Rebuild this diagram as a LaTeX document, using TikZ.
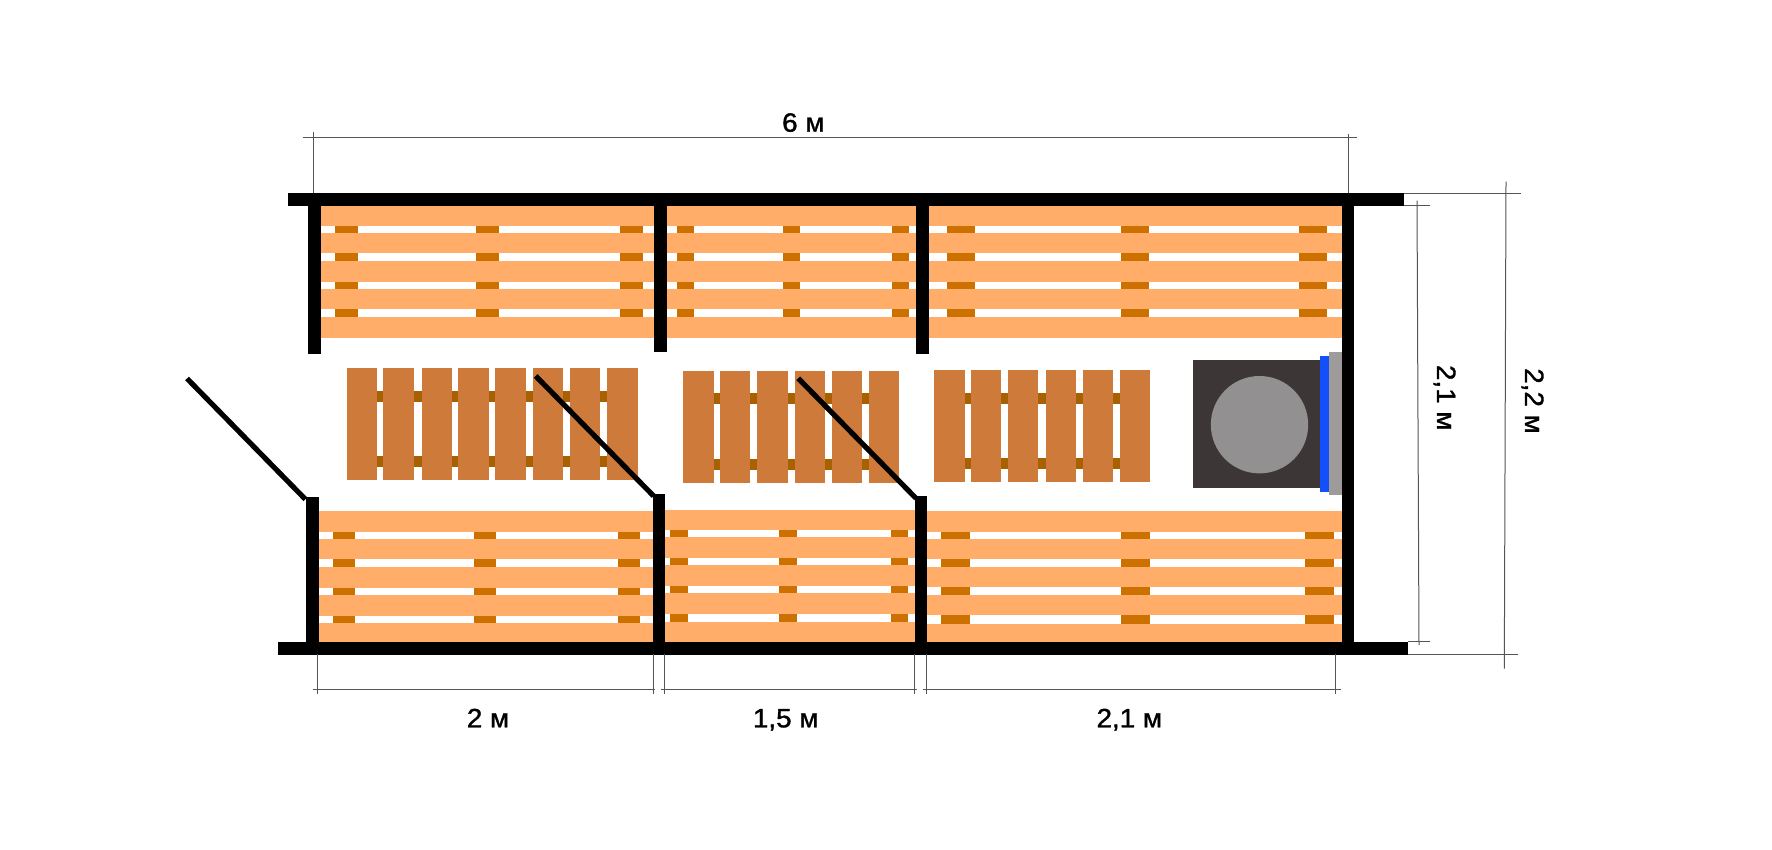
\documentclass[tikz,border=0pt]{standalone}
\usepackage{fontspec}
\newfontfamily\dimfont[FakeBold=1.3,FakeStretch=1.05]{Liberation Sans}
\definecolor{plankcol}{RGB}{255,173,105}
\definecolor{battencol}{RGB}{204,112,0}
\definecolor{slatcol}{RGB}{206,122,58}
\definecolor{joistcol}{RGB}{168,96,0}
\definecolor{stovecol}{RGB}{60,54,54}
\definecolor{stonecol}{RGB}{146,144,144}
\definecolor{shieldcol}{RGB}{20,80,250}
\definecolor{backcol}{RGB}{160,155,155}
\definecolor{dimcol}{RGB}{85,85,85}

\begin{document}
\begin{tikzpicture}[x=1pt,y=-1pt,
    plank/.style={fill=plankcol},
    batten/.style={fill=battencol},
    slat/.style={fill=slatcol},
    joist/.style={fill=joistcol},
    wall/.style={fill=black},
    door/.style={black,line width=5.2pt},
    dim line/.style={dimcol,line width=1pt},
    dim label/.style={anchor=base,inner sep=0pt,text=black,font=\dimfont\fontsize{26.5}{30}\selectfont}]
  \useasboundingbox (0,0) rectangle (1772,850);

  % upper bench
  \foreach \ya/\yb in {225.7/233.3,253.3/261,281.7/289,309.3/317.3}
    \foreach \xa/\xb in {335/358,476/499,620/643,676.8/693.7,782.7/800,891.7/908.7,946.7/974.7,1121/1149,1299/1327.3}
      \fill[batten] (\xa,\ya) rectangle (\xb,\yb);
  \foreach \ya/\yb in {205.7/225.7,233.3/253.3,261/281.7,289/309.3,317.3/337.7}
    \fill[plank] (320,\ya) rectangle (1342,\yb);

  % lower bench, left part
  \foreach \ya/\yb in {531.7/539,559.3/566.7,587.7/595,615.7/623.3}
    \foreach \xa/\xb in {332.5/355.4,473.6/496.4,617.5/640.4}
      \fill[batten] (\xa,\ya) rectangle (\xb,\yb);
  \foreach \ya/\yb in {511.3/531.7,539/559.3,566.7/587.7,595/615.7,623.3/643.7}
    \fill[plank] (319,\ya) rectangle (652.5,\yb);

  % lower bench, middle part
  \foreach \ya/\yb in {530/537.3,557.7/565,586/593.3,614/621.7}
    \foreach \xa/\xb in {670.4/687.5,779.3/797,891/908}
      \fill[batten] (\xa,\ya) rectangle (\xb,\yb);
  \foreach \ya/\yb in {510/530,537.3/557.7,565/586,593.3/614,621.7/642}
    \fill[plank] (664.6,\ya) rectangle (914.6,\yb);

  % lower bench, right part
  \foreach \ya/\yb in {531.7/539.3,559/567,587.3/595,615/623.7}
    \foreach \xa/\xb in {941/970,1121/1150,1304.7/1333.7}
      \fill[batten] (\xa,\ya) rectangle (\xb,\yb);
  \foreach \ya/\yb in {511/531.7,539.3/559,567/587.3,595/615,623.7/643.7}
    \fill[plank] (927,\ya) rectangle (1342,\yb);

  % floor gratings
  \fill[joist] (377,391.3) rectangle (607,402);
  \fill[joist] (377,456.3) rectangle (607,467);
  \foreach \xa/\xb in {347.1/377.1,383.2/413.6,421.8/452.1,458.2/488.6,495.4/525.7,532.9/563.2,570/600,607.1/637.5}
    \fill[slat] (\xa,368) rectangle (\xb,479.7);

  \fill[joist] (713,393.3) rectangle (869,404.3);
  \fill[joist] (713,458.7) rectangle (869,469.7);
  \foreach \xa/\xb in {683.2/713.9,720/750.4,757.1/787.5,794.6/825.4,832.1/862.1,868.6/898.9}
    \fill[slat] (\xa,370.7) rectangle (\xb,482.7);

  \fill[joist] (964,392.7) rectangle (1120,403.7);
  \fill[joist] (964,458) rectangle (1120,469);
  \foreach \xa/\xb in {934.3/965,971/1001.4,1007.9/1038.2,1045.7/1076,1082.9/1112.9,1119.6/1150}
    \fill[slat] (\xa,370) rectangle (\xb,481.7);

  % stove
  \fill[backcol] (1328.7,352) rectangle (1342,495.3);
  \fill[shieldcol] (1320.3,356) rectangle (1328.7,492);
  \fill[stovecol] (1193.3,360) rectangle (1320.3,487.7);
  \fill[stonecol] (1259.5,424.7) circle [radius=48.7];

  % walls
  \fill[wall] (288.2,192.7) rectangle (1404,205.7);
  \fill[wall] (277.5,642) rectangle (1408,654.5);
  \fill[wall] (1342,192.7) rectangle (1354.3,654.5);
  \fill[wall] (307.9,192.7) rectangle (320.7,353.7);
  \fill[wall] (654,192.7) rectangle (666.8,351.8);
  \fill[wall] (916.3,192.7) rectangle (929,354.3);
  \fill[wall] (306.4,497) rectangle (319,654.5);
  \fill[wall] (652.5,493.7) rectangle (664.6,654.5);
  \fill[wall] (914.6,496) rectangle (927,654.5);

  % doors
  \draw[door] (187,378.5) -- (305.4,499.3);
  \draw[door] (535.7,376) -- (653.6,496);
  \draw[door] (798.2,378.3) -- (916,498.3);

  % dimensions
  \draw[dim line] (302.9,138) -- (1357,138);
  \draw[dim line] (313.2,131.7) -- (313.2,193);
  \draw[dim line] (1348.7,134) -- (1348.7,193);
  \node[dim label] (top len) at (803.3,131.7) {6 м};

  \draw[dim line] (1404,194) -- (1520.7,194);
  \draw[dim line] (1404,205.7) -- (1430,205.7);
  \draw[dim line] (1408,641.3) -- (1430,641.3);
  \draw[dim line] (1408,654) -- (1518,654);
  \draw[dim line] (1417,200.7) -- (1419,645);
  \draw[dim line] (1506,181.7) -- (1504.3,668.7);
  \node[dim label,rotate=-90] (inner len) at (1437,397.7) {2,1 м};
  \node[dim label,rotate=-90] (outer len) at (1525,401) {2,2 м};

  \draw[dim line] (313,689) -- (655.4,689);
  \draw[dim line] (660.7,689) -- (917,689);
  \draw[dim line] (922.5,689) -- (1341,689);
  \foreach \x in {317.5,653.6,664.6,914.6,926.8,1335}
    \draw[dim line] (\x,654) -- (\x,694);
  \node[dim label] (left len) at (488,727.3) {2 м};
  \node[dim label] (mid len) at (785.7,727.3) {1,5 м};
  \node[dim label] (right len) at (1129.3,727.3) {2,1 м};
\end{tikzpicture}
\end{document}
